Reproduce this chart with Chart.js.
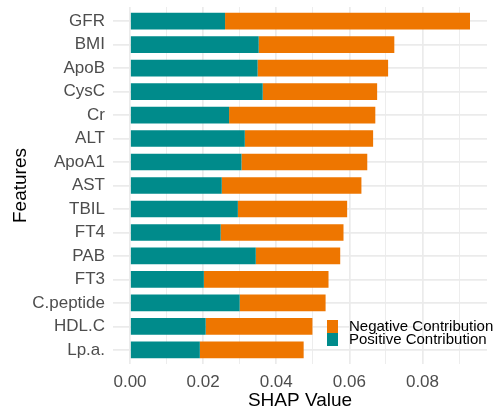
<!DOCTYPE html>
<html>
<head>
<meta charset="utf-8">
<script src="https://cdn.jsdelivr.net/npm/chart.js@4/dist/chart.umd.min.js"></script>
<style>
  html, body { margin: 0; padding: 0; background: #ffffff; }
  #wrap { width: 494px; height: 412px; }
</style>
</head>
<body>
<div id="wrap"><canvas id="c" width="494" height="412"></canvas></div>
<script>
// Features, ordered from largest to smallest total SHAP value
const features = ["GFR", "BMI", "ApoB", "CysC", "Cr", "ALT", "ApoA1", "AST",
                  "TBIL", "FT4", "PAB", "FT3", "C.peptide", "HDL.C", "Lp.a."];
// Mean SHAP contribution from positive values
const positiveContribution = [0.0260, 0.0352, 0.0349, 0.0363, 0.0271, 0.0314, 0.0305, 0.0251,
                              0.0295, 0.0248, 0.0344, 0.0202, 0.0300, 0.0207, 0.0191];
// Mean SHAP contribution from negative values (absolute)
const negativeContribution = [0.0670, 0.0371, 0.0357, 0.0313, 0.0400, 0.0351, 0.0344, 0.0382,
                              0.0299, 0.0336, 0.0231, 0.0341, 0.0235, 0.0292, 0.0284];
// Labelled x ticks
const xTickValues = [0, 0.02, 0.04, 0.06, 0.08];

const TEAL = "#008B8B";
const ORANGE = "#EE7600";
const GRID = "#EBEBEB";
const FONT = "'Liberation Sans', Arial, sans-serif";

const xMax = positiveContribution.reduce((m, v, i) => Math.max(m, v + negativeContribution[i]), 0);

const toPoints = arr => arr.map((v, i) => ({ x: v, y: i }));

// Draws the legend inside the plot area, bottom right
const insideLegend = {
  id: "insideLegend",
  afterDraw(chart) {
    const ctx = chart.ctx;
    const items = chart.data.datasets.slice().reverse();
    const x0 = 327, y0 = 320, w = 11, h = 13;
    ctx.save();
    ctx.font = "15px " + FONT;
    ctx.textBaseline = "middle";
    ctx.textAlign = "left";
    items.forEach((ds, i) => {
      ctx.fillStyle = ds.backgroundColor;
      ctx.fillRect(x0, y0 + i * h, w, h);
      ctx.fillStyle = "#000000";
      ctx.fillText(ds.label, x0 + 22, y0 + i * h + h / 2);
    });
    ctx.restore();
  }
};

new Chart(document.getElementById("c"), {
  type: "bar",
  data: {
    datasets: [
      { label: "Positive Contribution", data: toPoints(positiveContribution), backgroundColor: TEAL },
      { label: "Negative Contribution", data: toPoints(negativeContribution), backgroundColor: ORANGE }
    ]
  },
  options: {
    indexAxis: "y",
    responsive: false,
    devicePixelRatio: 1,
    animation: false,
    barPercentage: 0.71,
    categoryPercentage: 1,
    layout: { padding: { top: 7, right: 7, left: 0, bottom: 0 } },
    plugins: { legend: { display: false }, tooltip: { enabled: false } },
    scales: {
      x: {
        type: "linear",
        stacked: true,
        offset: false,
        min: -0.05 * xMax,
        max: 1.05 * xMax,
        afterBuildTicks(scale) {
          const ticks = [];
          for (let k = 0; k <= 9; k++) ticks.push({ value: k / 100 });
          scale.ticks = ticks;
        },
        afterFit(scale) {
          scale.height = 48;
          scale.paddingLeft = 0;
          scale.paddingRight = 0;
        },
        border: { display: false },
        grid: {
          offset: false,
          color: GRID,
          drawTicks: false,
          lineWidth: ctx => (ctx.tick && xTickValues.some(v => Math.abs(v - ctx.tick.value) < 1e-9)) ? 1.7 : 0.9
        },
        ticks: {
          autoSkip: false,
          maxRotation: 0,
          padding: 8,
          color: "#4D4D4D",
          font: { family: FONT, size: 17 },
          callback: v => xTickValues.some(t => Math.abs(t - v) < 1e-9) ? v.toFixed(2) : ""
        },
        title: {
          display: true,
          text: "SHAP Value",
          color: "#000000",
          font: { family: FONT, size: 19 },
          padding: { top: 0, bottom: 0 }
        }
      },
      y: {
        type: "linear",
        stacked: true,
        reverse: true,
        offset: false,
        min: -0.6,
        max: features.length - 1 + 0.6,
        afterBuildTicks(scale) {
          scale.ticks = features.map((_, i) => ({ value: i }));
        },
        afterFit(scale) {
          scale.width = 113;
          scale.paddingTop = 0;
          scale.paddingBottom = 0;
        },
        border: { display: false },
        grid: { offset: false, color: GRID, drawTicks: false, lineWidth: 1.7 },
        ticks: {
          autoSkip: false,
          padding: 8,
          color: "#4D4D4D",
          font: { family: FONT, size: 17 },
          callback: v => features[v]
        },
        title: {
          display: true,
          text: "Features",
          color: "#000000",
          font: { family: FONT, size: 19 },
          padding: { top: 9, bottom: 0 }
        }
      }
    }
  },
  plugins: [insideLegend]
});
</script>
</body>
</html>
